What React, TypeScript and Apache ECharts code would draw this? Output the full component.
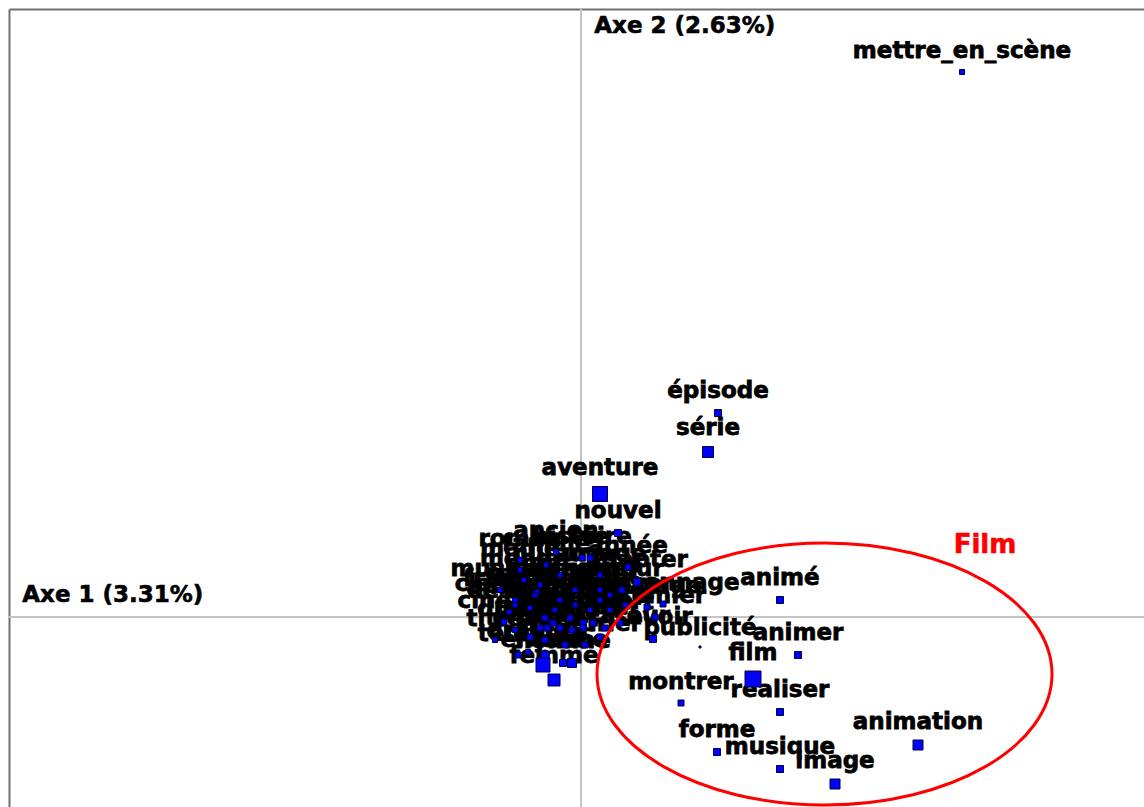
import React, { useEffect, useRef } from "react";
import * as echarts from "echarts";

// Factor coordinates (axis 1, axis 2) and symbol sizes of the words
const words = [
  "mettre_en_scène", "épisode", "série", "aventure", "nouvel", "animé", "animer", "film", "réaliser", "montrer",
  "forme", "musique", "image", "animation", "publicité",
  "ancien", "famille", "année", "histoire", "vie", "monde", "adapter", "univers", "acteur", "personnage",
  "métrage", "premier", "dessin", "cinéma", "savoir", "drame", "réalité", "scène", "genre", "comédie",
  "public", "studio", "court", "voix", "style", "effet", "technique", "dessiner", "créer", "spectateur",
  "temps", "musical", "français", "américain", "héros", "monstre", "livre", "magie", "jeu", "homme",
  "jeune", "enfant", "femme",
  "roman", "sujet", "culture", "voyage", "réel", "classique", "durée", "regarder", "auteur", "moment",
  "produire", "époque", "passion", "trouver", "sortir", "titre", "légende", "grand",
];
const axis1 = [
  1.905, 0.685, 0.635, 0.095, 0.185, 0.995, 1.085, 0.86, 0.995, 0.5,
  0.68, 0.995, 1.27, 1.685, 0.595,
  -0.125, -0.175, 0.235, 0.005, 0.045, -0.285, 0.28, -0.22, 0.205, 0.41,
  0.33, 0.37, -0.36, -0.385, 0.36, -0.265, -0.18, -0.18, -0.14, -0.055,
  0.01, 0.06, 0.195, -0.255, -0.205, -0.17, -0.105, -0.045, 0.01, 0.095,
  -0.315, -0.405, -0.33, -0.255, -0.105, -0.03, 0.095, -0.305, 0.145, -0.09,
  -0.045, -0.19, -0.135,
  -0.305, -0.205, -0.105, 0.095, 0.145, -0.33, -0.33, 0.02, -0.08, -0.18,
  0.045, -0.03, -0.23, 0.22, 0.12, -0.43, -0.13, 0.095,
];
const axis2 = [
  2.725, 1.02, 0.825, 0.615, 0.42, 0.085, -0.19, -0.31, -0.475, -0.43,
  -0.675, -0.76, -0.835, -0.64, -0.15,
  0.325, 0.26, 0.25, 0.295, 0.295, 0.185, 0.175, 0.125, 0.135, 0.065,
  0.05, 0.0, 0.025, -0.025, -0.11, -0.175, -0.19, -0.005, -0.03, -0.005,
  -0.03, -0.03, -0.03, -0.1, -0.055, -0.055, -0.055, -0.065, -0.055, -0.1,
  -0.19, 0.135, 0.085, 0.045, 0.085, 0.135, 0.085, 0.235, 0.035, -0.23,
  -0.23, -0.24, -0.315,
  0.285, 0.16, 0.21, 0.21, 0.11, 0.06, -0.065, -0.14, -0.14, -0.115,
  0.035, 0.06, 0.11, 0.06, -0.055, -0.115, 0.035, 0.135,
];
const sizes = [
  5, 7, 11, 15, 7, 7, 7, 16, 7, 6,
  7, 7, 10, 10, 2,
  5, 5, 6, 6, 6, 5, 7, 5, 6, 6,
  6, 6, 5, 6, 7, 5, 8, 6, 6, 6,
  6, 6, 6, 6, 6, 6, 6, 6, 6, 6,
  6, 5, 5, 5, 5, 5, 5, 5, 5, 7,
  9, 14, 12,
  5, 5, 5, 5, 5, 5, 5, 6, 6, 6,
  5, 5, 5, 5, 6, 5, 5, 5,
];

// Axis titles (inertia percentages)
const axisTitles = ["Axe 1 (3.31%)", "Axe 2 (2.63%)"];

// Cluster ellipse: centre x, centre y, radius x, radius y (factor units)
const clusterEllipse = [1.2175, -0.285, 1.1375, 0.655];
const clusterName = "Film";
const clusterLabelPos = [2.02, 0.365];

// Axis ranges
const xRange = [-2.86, 2.815];
const yRange = [-0.95, 3.04];

const FONT = "'DejaVu Sans', sans-serif";

export default function App() {
  const ref = useRef<HTMLDivElement>(null);

  useEffect(() => {
    document.body.style.margin = "0";
    if (!ref.current) return;
    const chart = echarts.init(ref.current, null, { renderer: "svg" });
    const pts = words.map((w, i) => ({ name: w, value: [axis1[i], axis2[i]], symbolSize: sizes[i] }));

    chart.setOption({
      animation: false,
      backgroundColor: "#ffffff",
      grid: { left: 9, top: 9, right: 0, bottom: 0, containLabel: false },
      xAxis: {
        type: "value",
        min: xRange[0],
        max: xRange[1],
        axisLine: { show: true, onZero: true, lineStyle: { color: "#c4c4c4", width: 2 } },
        axisTick: { show: false },
        axisLabel: { show: false },
        splitLine: { show: false },
      },
      yAxis: {
        type: "value",
        min: yRange[0],
        max: yRange[1],
        axisLine: { show: true, onZero: true, lineStyle: { color: "#c4c4c4", width: 2 } },
        axisTick: { show: false },
        axisLabel: { show: false },
        splitLine: { show: false },
      },
      series: [
        {
          type: "scatter",
          name: "labels",
          z: 2,
          symbol: "rect",
          data: pts,
          itemStyle: { color: "rgba(0,0,0,0)", borderWidth: 0, opacity: 1 },
          label: {
            show: true,
            position: "top",
            distance: 8,
            formatter: (p: any) => p.name,
            color: "#000000",
            opacity: 1,
            fontFamily: FONT,
            fontWeight: "bold",
            fontSize: 23,
            textBorderColor: "#000000",
            textBorderWidth: 0.8,
          },
          emphasis: { disabled: true },
        },
        {
          type: "scatter",
          name: "points",
          z: 3,
          symbol: "rect",
          data: pts,
          itemStyle: { color: "#0000ff", borderColor: "#000040", borderWidth: 1, opacity: 1 },
          label: { show: false },
          emphasis: { disabled: true },
        },
        {
          type: "custom",
          name: "cluster",
          z: 4,
          data: [clusterEllipse],
          renderItem: (params: any, api: any) => {
            const c = api.coord([api.value(0), api.value(1)]);
            const s = api.size([api.value(2), api.value(3)]);
            return {
              type: "ellipse",
              shape: { cx: c[0], cy: c[1], rx: s[0], ry: s[1] },
              style: { fill: "none", stroke: "#ff0000", lineWidth: 3 },
            };
          },
        },
        {
          type: "scatter",
          name: "clusterLabel",
          z: 5,
          symbolSize: 0,
          itemStyle: { opacity: 1 },
          data: [{ name: clusterName, value: clusterLabelPos }],
          label: {
            show: true,
            position: "inside",
            formatter: (p: any) => p.name,
            color: "#ff0000",
            opacity: 1,
            fontFamily: FONT,
            fontWeight: "bold",
            fontSize: 26,
            textBorderColor: "#ff0000",
            textBorderWidth: 0.6,
          },
          emphasis: { disabled: true },
        },
      ],
      graphic: [
        { type: "line", shape: { x1: 9.5, y1: 9.5, x2: 1144, y2: 9.5 }, style: { stroke: "#707070", lineWidth: 2 } },
        { type: "line", shape: { x1: 9.5, y1: 9.5, x2: 9.5, y2: 807 }, style: { stroke: "#707070", lineWidth: 2 } },
        {
          type: "text",
          left: 22,
          top: 582,
          style: { text: axisTitles[0], fill: "#000", fontFamily: FONT, fontWeight: "bold", fontSize: 23, stroke: "#000", lineWidth: 0.6 },
        },
        {
          type: "text",
          left: 594,
          top: 13,
          style: { text: axisTitles[1], fill: "#000", fontFamily: FONT, fontWeight: "bold", fontSize: 23, stroke: "#000", lineWidth: 0.6 },
        },
      ],
    });

    return () => chart.dispose();
  }, []);

  return <div ref={ref} style={{ width: 1144, height: 807 }} />;
}
